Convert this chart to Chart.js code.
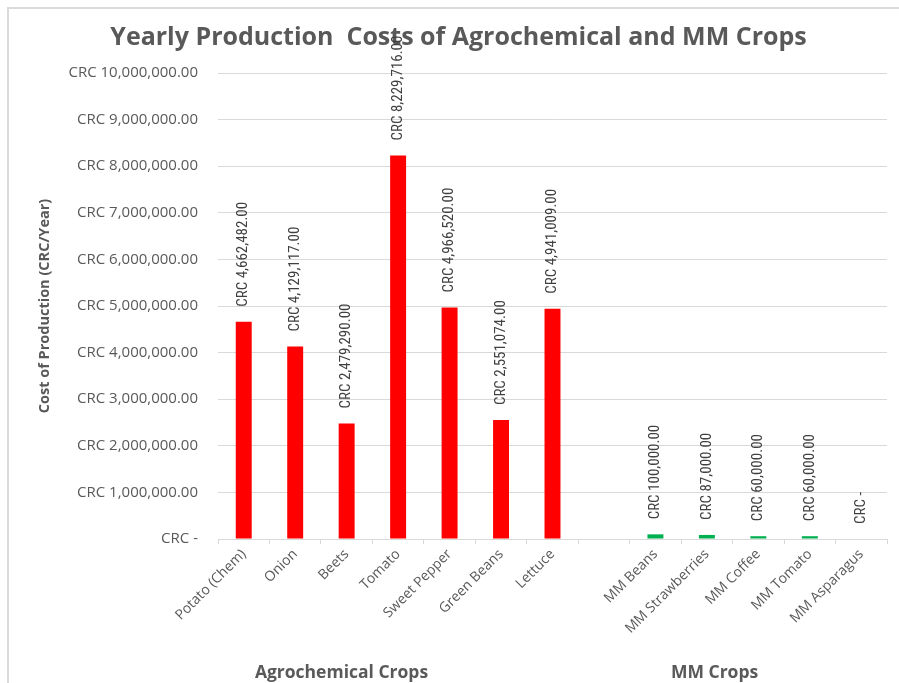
<!DOCTYPE html>
<html>
<head>
<meta charset="utf-8">
<title>Yearly Production Costs</title>
<script src="https://cdn.jsdelivr.net/npm/chart.js@4.4.1/dist/chart.umd.min.js"></script>
<style>
  html, body { margin: 0; padding: 0; background: #fff; }
  canvas { display: block; }
</style>
</head>
<body>
<canvas id="cost-chart" width="899" height="683"></canvas>
<script>
// values (CRC per year)
const agroCrops = ["Potato (Chem)", "Onion", "Beets", "Tomato", "Sweet Pepper", "Green Beans", "Lettuce"];
const agroCosts = [4662482, 4129117, 2479290, 8229716, 4966520, 2551074, 4941009];
const mmCrops = ["MM Beans", "MM Strawberries", "MM Coffee", "MM Tomato", "MM Asparagus"];
const mmCosts = [100000, 87000, 60000, 60000, 0];
const groupNames = ["Agrochemical Crops", "MM Crops"];
const yMax = 10000000;
const yStep = 1000000;

const GRAY = "#595959";
const GRID = "#d9d9d9";
const FONT = "'Open Sans', Lato, sans-serif";

// one empty slot between the two groups
const labels = [...agroCrops, "", ...mmCrops];
const agroData = [...agroCosts, ...Array(mmCrops.length + 1).fill(null)];
const mmData = [...Array(agroCrops.length + 1).fill(null), ...mmCosts];
const groupRanges = [
  [0, agroCrops.length - 1],
  [agroCrops.length + 1, labels.length - 1],
];

const fmtCRC = (v) =>
  v === 0
    ? "CRC -"
    : "CRC " + v.toLocaleString("en-US", { minimumFractionDigits: 2, maximumFractionDigits: 2 });

const frame = {
  id: "frame",
  beforeDraw(chart) {
    const { ctx, width, height } = chart;
    ctx.save();
    ctx.strokeStyle = "#dadada";
    ctx.lineWidth = 2;
    ctx.beginPath();
    ctx.moveTo(8, height);
    ctx.lineTo(8, 8);
    ctx.lineTo(width, 8);
    ctx.stroke();
    ctx.restore();
  },
};

const barLabels = {
  id: "barLabels",
  afterDatasetsDraw(chart) {
    const { ctx } = chart;
    ctx.save();
    ctx.font = "15px 'Liberation Sans Narrow', 'Roboto Condensed', Lato, sans-serif";
    ctx.fillStyle = "#404040";
    ctx.textAlign = "left";
    ctx.textBaseline = "middle";
    chart.data.datasets.forEach((ds, di) => {
      chart.getDatasetMeta(di).data.forEach((bar, i) => {
        const v = ds.data[i];
        if (v === null) return;
        ctx.save();
        ctx.translate(bar.x, bar.y - 15);
        ctx.rotate(-Math.PI / 2);
        ctx.fillText(fmtCRC(v), 0, 0);
        ctx.restore();
      });
    });
    ctx.restore();
  },
};

const groupLabels = {
  id: "groupLabels",
  afterDraw(chart) {
    const { ctx } = chart;
    const x = chart.scales.x;
    const slot = x.getPixelForValue(1) - x.getPixelForValue(0);
    ctx.save();
    ctx.font = "bold 17.5px " + FONT;
    ctx.fillStyle = GRAY;
    ctx.textAlign = "center";
    ctx.textBaseline = "middle";
    groupRanges.forEach(([a, b], gi) => {
      // labels sit a little left of the group's middle, as in the original
      const cx = (x.getPixelForValue(a) + x.getPixelForValue(b)) / 2 - slot * (gi === 0 ? 1.1 : 0.85);
      ctx.fillText(groupNames[gi], cx, chart.height - 10);
    });
    ctx.restore();
  },
};

new Chart(document.getElementById("cost-chart"), {
  type: "bar",
  data: {
    labels,
    datasets: [
      { label: "Agrochemical", data: agroData, backgroundColor: "#ff0000" },
      { label: "MM", data: mmData, backgroundColor: "#00b050" },
    ],
  },
  options: {
    responsive: false,
    animation: false,
    layout: { padding: { left: 30, right: 12, top: 0, bottom: 0 } },
    datasets: {
      bar: { grouped: false, categoryPercentage: 1, barPercentage: 0.31 },
    },
    plugins: {
      legend: { display: false },
      tooltip: { enabled: false },
      title: {
        display: true,
        text: "Yearly Production  Costs of Agrochemical and MM Crops",
        color: GRAY,
        font: { family: FONT, size: 25, weight: "bold", lineHeight: 1.2 },
        padding: { top: 23, bottom: 20 },
      },
    },
    scales: {
      x: {
        offset: true,
        afterFit: (s) => { s.height = 144; },
        grid: {
          offset: true,
          drawOnChartArea: false,
          drawTicks: true,
          tickLength: 5,
          color: GRID,
        },
        border: { color: GRID },
        ticks: {
          autoSkip: false,
          minRotation: 45,
          maxRotation: 45,
          padding: 2,
          color: GRAY,
          font: { family: FONT, size: 14 },
        },
      },
      y: {
        min: 0,
        max: yMax,
        afterFit: (s) => { s.width = 188; },
        border: { display: false },
        grid: { color: GRID, drawTicks: false },
        ticks: {
          stepSize: yStep,
          padding: 20,
          color: GRAY,
          font: { family: FONT, size: 15 },
          callback: (v) => fmtCRC(v),
        },
        title: {
          display: true,
          text: "Cost of Production (CRC/Year)",
          color: GRAY,
          font: { family: FONT, size: 14.5, weight: "bold" },
          padding: { top: 6, bottom: 0 },
        },
      },
    },
  },
  plugins: [frame, barLabels, groupLabels],
});
</script>
</body>
</html>
